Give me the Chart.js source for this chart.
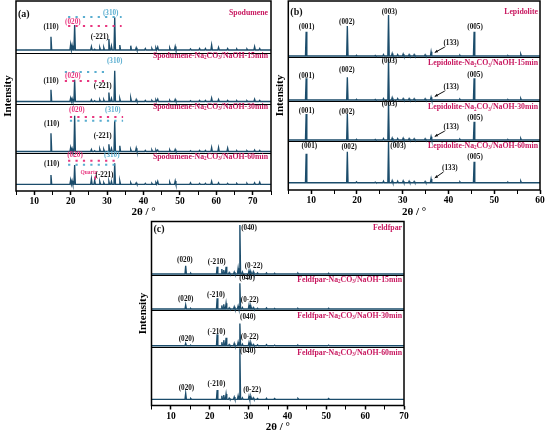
<!DOCTYPE html>
<html><head><meta charset="utf-8">
<script src="https://cdn.jsdelivr.net/npm/chart.js@4.4.1/dist/chart.umd.min.js"></script>
<style>
html,body{margin:0;padding:0;background:#fff;width:550px;height:437px;overflow:hidden;position:relative;}
canvas{position:absolute;}
</style></head><body>
<canvas id="ca" width="280" height="219" style="left:0px;top:0px"></canvas>
<canvas id="cb" width="277" height="219" style="left:273px;top:0px"></canvas>
<canvas id="cc" width="290" height="229" style="left:130px;top:205px"></canvas>
<script>
// ---------- (a) Spodumene: peak positions (2θ) and heights ----------
const aTheta     = [14.6, 20.0, 20.4, 21.1, 25.7, 26.6, 28.0, 29.1, 30.5, 31.2, 32.1, 33.5, 36.5, 38.0, 40.5, 42.3, 43.4, 43.9, 47.2, 48.7, 52.9, 55.4, 57.0, 58.7, 60.6, 63.1, 65.6, 68.4, 70.5, 71.9];
const aSpodumene = [13.3, 5.5, 4.5, 25.0, 3.3, 0.8, 2.3, 2.3, 11.0, 4.0, 32.7, 5.0, 4.3, 2.3, 1.5, 1.5, 2.0, 3.0, 2.0, 3.5, 1.0, 1.5, 1.5, 5.0, 2.5, 1.5, 1.0, 1.0, 3.3, 1.5];
const aSpo15     = [11.7, 3.3, 2.8, 21.7, 1.7, 0.8, 1.7, 1.7, 9.0, 3.0, 30.7, 2.7, 3.3, 2.0, 1.0, 1.0, 1.5, 2.3, 1.2, 2.0, 0.8, 1.0, 1.0, 3.3, 2.0, 1.0, 0.8, 0.8, 2.3, 1.0];
const aSpo30     = [18.3, 4.0, 3.0, 35.7, 2.0, 0.8, 2.3, 2.0, 7.3, 3.0, 30.7, 5.7, 2.0, 3.3, 1.0, 1.5, 1.5, 1.5, 1.5, 2.0, 0.8, 1.0, 1.0, 4.0, 4.0, 3.3, 0.8, 0.8, 1.5, 1.0];
const aSpo60     = [9.3, 4.3, 3.5, 19.3, 5.3, 4.0, 2.7, 1.5, 3.0, 3.0, 21.0, 3.3, 1.5, 1.5, 1.0, 1.0, 1.5, 3.0, 2.0, 3.3, 1.5, 1.0, 1.0, 3.0, 1.5, 1.0, 0.8, 1.0, 1.5, 2.0];
const aNames = ['Spodumene', 'Spodumene-Na_2CO_3/NaOH-15min', 'Spodumene-Na_2CO_3/NaOH-30min', 'Spodumene-Na_2CO_3/NaOH-60min'];

// ---------- (b) Lepidolite ----------
const bTheta      = [8.9, 17.9, 19.9, 24.0, 25.8, 26.9, 27.7, 28.9, 30.1, 31.4, 32.5, 34.9, 36.2, 42.5, 45.6, 53.0, 55.8];
const bLepidolite = [24.3, 30.0, 0.8, 0.6, 1.5, 41.0, 2.5, 1.5, 2.0, 1.5, 1.5, 1.3, 4.3, 0.8, 24.3, 0.5, 1.8];
const bLep15      = [21.7, 22.7, 0.8, 0.6, 1.5, 40.7, 2.3, 1.5, 1.5, 1.5, 1.3, 1.3, 2.7, 0.8, 21.7, 0.5, 1.5];
const bLep30      = [26.0, 26.0, 0.8, 0.6, 1.5, 38.0, 2.0, 1.5, 1.8, 1.5, 1.3, 1.3, 3.3, 0.8, 18.3, 0.5, 1.5];
const bLep60      = [29.0, 31.0, 0.8, 0.6, 1.5, 40.7, 2.0, 1.5, 1.8, 1.5, 1.3, 1.3, 3.7, 0.8, 21.0, 0.5, 1.5];
const bNames = ['Lepidolite', 'Lepidolite-Na_2CO_3/NaOH-15min', 'Lepidolite-Na_2CO_3/NaOH-30min', 'Lepidolite-Na_2CO_3/NaOH-60min'];

// ---------- (c) Feldspar ----------
const cTheta    = [13.8, 15.1, 21.9, 23.1, 23.6, 24.2, 25.0, 26.3, 27.3, 27.75, 28.4, 30.1, 30.6, 31.2, 32.3, 34.6, 36.7, 42.7, 50.6];
const cFeldspar = [8.3, 0.8, 7.3, 5.0, 4.0, 7.3, 1.5, 2.0, 5.7, 49.0, 2.0, 3.3, 2.0, 2.3, 1.0, 1.0, 0.8, 0.8, 0.8];
const cFel15    = [4.0, 0.6, 10.7, 3.5, 4.7, 5.7, 1.2, 2.3, 3.0, 25.7, 1.5, 4.0, 2.5, 1.5, 0.8, 1.0, 0.6, 0.6, 0.8];
const cFel30    = [2.3, 0.5, 11.3, 3.5, 5.5, 8.0, 1.2, 2.3, 3.5, 22.3, 1.5, 3.3, 2.5, 1.3, 0.8, 1.0, 0.6, 0.6, 0.6];
const cFel60    = [6.0, 0.8, 9.3, 3.5, 4.3, 5.3, 1.2, 2.3, 3.5, 51.0, 1.5, 3.3, 2.5, 1.5, 0.8, 1.0, 0.8, 0.8, 0.8];
const cNames = ['Feldfpar', 'Feldfpar-Na_2CO_3/NaOH-15min', 'Feldfpar-Na_2CO_3/NaOH-30min', 'Feldfpar-Na_2CO_3/NaOH-60min'];

// ---------- styling / layout ----------
const FONT = 'Liberation Serif';
const LINE = '#1b4c6b';
const BLK = '#111', PNK = '#e8367f', CYN = '#5aaed0', TTL = '#c8175f';
Chart.defaults.font.family = FONT;

function trace(theta, h, base, lo, hi, w) {
  const pts = [{x: lo, y: base}];
  theta.forEach((t, i) => {
    pts.push({x: t - w, y: base}, {x: t, y: base + h[i]}, {x: t + w, y: base});
  });
  pts.push({x: hi, y: base});
  return pts;
}

function drawRich(ctx, str, xr, y, size, color) {
  const parts = [];
  str.split(/(_\d)/).forEach(p => {
    if (!p) return;
    if (p[0] === '_') parts.push({t: p.slice(1), sub: true}); else parts.push({t: p, sub: false});
  });
  const fN = 'bold ' + size + 'px "' + FONT + '"';
  const fS = 'bold ' + (size * 0.65).toFixed(2) + 'px "' + FONT + '"';
  let total = 0;
  parts.forEach(p => { ctx.font = p.sub ? fS : fN; p.w = ctx.measureText(p.t).width; total += p.w; });
  let x = xr - total;
  ctx.fillStyle = color; ctx.textAlign = 'left'; ctx.textBaseline = 'middle';
  parts.forEach(p => {
    ctx.font = p.sub ? fS : fN;
    ctx.fillText(p.t, x, p.sub ? y + size * 0.28 : y);
    x += p.w;
  });
}

function annotPlugin(cfg) {
  return {
    id: 'annot',
    afterDatasetsDraw(chart) {
      const ctx = chart.ctx, xs = chart.scales.x, ys = chart.scales.y, ca = chart.chartArea;
      const X = v => xs.getPixelForValue(v), Y = v => ys.getPixelForValue(v);
      ctx.save();
      (cfg.dots || []).forEach(d => {
        ctx.beginPath(); ctx.setLineDash([2.2, 5.2]); ctx.lineWidth = 2; ctx.strokeStyle = d[3];
        ctx.moveTo(X(d[0]), Y(d[2])); ctx.lineTo(X(d[1]), Y(d[2])); ctx.stroke();
      });
      ctx.setLineDash([]);
      (cfg.arrows || []).forEach(a => {
        const x1 = X(a[0]), y1 = Y(a[1]), x2 = X(a[2]), y2 = Y(a[3]);
        ctx.strokeStyle = a[4] || BLK; ctx.fillStyle = a[4] || BLK; ctx.lineWidth = 1;
        ctx.beginPath(); ctx.moveTo(x1, y1); ctx.lineTo(x2, y2); ctx.stroke();
        const ang = Math.atan2(y2 - y1, x2 - x1), L = 3.5;
        ctx.beginPath(); ctx.moveTo(x2, y2);
        ctx.lineTo(x2 - L * Math.cos(ang - 0.45), y2 - L * Math.sin(ang - 0.45));
        ctx.lineTo(x2 - L * Math.cos(ang + 0.45), y2 - L * Math.sin(ang + 0.45));
        ctx.closePath(); ctx.fill();
      });
      ctx.textAlign = 'center'; ctx.textBaseline = 'middle';
      cfg.labels.forEach(l => {
        ctx.font = 'bold ' + (l[4] || 7.2) + 'px "' + FONT + '"';
        ctx.fillStyle = l[3] || BLK;
        ctx.fillText(l[0], X(l[1]), Y(l[2]));
      });
      cfg.names.forEach((n, i) => drawRich(ctx, n, ca.right - cfg.titleInset, Y(cfg.titleY[i]), 7.8, TTL));
      ctx.font = 'bold 10px "' + FONT + '"'; ctx.fillStyle = BLK; ctx.textAlign = 'left';
      ctx.fillText(cfg.letter, ca.left + 2, Y(cfg.letterY));
      ctx.lineWidth = 1.5; ctx.strokeStyle = '#000';
      ctx.strokeRect(ca.left, ca.top, ca.right - ca.left, ca.bottom - ca.top);
      ctx.restore();
    }
  };
}

function makeChart(id, cfg) {
  new Chart(document.getElementById(id), {
    type: 'scatter',
    data: {
      datasets: cfg.series.map((h, i) => ({
        data: trace(cfg.theta, h, cfg.base[i], cfg.xmin, cfg.xmax, cfg.w),
        showLine: true, borderColor: LINE, borderWidth: 1.35, pointRadius: 0, tension: 0, fill: false
      }))
    },
    options: {
      responsive: false, animation: false, events: [],
      layout: {padding: {left: 0, top: cfg.top, right: cfg.right, bottom: 0}},
      plugins: {legend: {display: false}, tooltip: {enabled: false}},
      scales: {
        x: {
          type: 'linear', min: cfg.xmin, max: cfg.xmax,
          ticks: {stepSize: 5, autoSkip: false, maxRotation: 0, padding: 1, color: '#000',
                  font: {size: 9.5, weight: 'bold'}, callback: v => (v % 10 === 0 ? v : '')},
          grid: {drawOnChartArea: false, drawTicks: true, tickLength: 4, tickColor: '#000',
                 tickWidth: c => (c.tick && c.tick.value % 10 === 0 ? 1.5 : 1)},
          border: {display: false},
          title: {display: true, text: '2θ / °', color: '#000', font: {size: 11, weight: 'bold'}, padding: 0},
          afterFit: s => { s.height = cfg.xh; }
        },
        y: {
          type: 'linear', min: 0, max: cfg.ymax,
          afterBuildTicks: s => { s.ticks = cfg.seps.map(v => ({value: v})); },
          ticks: {display: false},
          grid: {drawTicks: false, color: '#000', lineWidth: 1},
          border: {display: false},
          title: {display: true, text: 'Intensity', color: '#000', font: {size: 11, weight: 'bold'},
                  padding: {top: cfg.ytp, bottom: 0}},
          afterFit: s => { s.width = cfg.left; }
        }
      }
    },
    plugins: [annotPlugin(cfg)]
  });
}

makeChart('ca', {
  theta: aTheta, series: [aSpodumene, aSpo15, aSpo30, aSpo60], names: aNames,
  base: [141, 89.5, 39.5, 6.7], seps: [137.5, 87, 37.5], ymax: 190,
  xmin: 5, xmax: 75, w: 0.2, left: 16, top: 1, right: 9, xh: 28, ytp: 1.4,
  titleY: [178, 135, 84, 34], titleInset: 3, letter: '(a)', letterY: 177,
  labels: [
    ['(110)', 14.6, 164], ['(020)', 20.6, 169, PNK], ['(310)', 31.0, 178, CYN], ['(-221)', 28.0, 154],
    ['(310)', 32.1, 130, CYN], ['(020)', 20.6, 115, PNK], ['(110)', 14.6, 110], ['(-221)', 28.8, 105],
    ['(020)', 21.7, 81, PNK], ['(310)', 31.6, 81, CYN], ['(110)', 14.8, 67], ['(-221)', 28.8, 55],
    ['(020)', 21.2, 36, PNK], ['(310)', 31.3, 36, CYN], ['(110)', 14.8, 27], ['Quartz', 25.0, 18, PNK, 5.5], ['(-221)', 29.3, 16]
  ],
  dots: [
    [19.3, 34.0, 174, CYN], [19.3, 34.0, 165, PNK],
    [18.4, 30.2, 119, CYN], [18.4, 30.2, 110, PNK],
    [19.8, 34.4, 74, PNK], [19.8, 34.4, 70.3, CYN],
    [19.3, 33.4, 30.3, PNK], [19.3, 33.4, 26.3, CYN]
  ],
  arrows: [[26.8, 15.5, 26.8, 11.2, PNK]]
});

makeChart('cb', {
  theta: bTheta, series: [bLepidolite, bLep15, bLep30, bLep60], names: bNames,
  base: [134, 90, 50, 7.3], seps: [132.3, 88.3, 48.3], ymax: 189,
  xmin: 5, xmax: 60, w: 0.15, left: 15.3, top: 1, right: 10, xh: 29, ytp: 0.4,
  titleY: [178.3, 126.7, 82.7, 44], titleInset: 2, letter: '(b)', letterY: 177.3,
  labels: [
    ['(001)', 9.0, 163.3], ['(002)', 17.8, 168.3], ['(003)', 27.1, 178.3], ['(005)', 45.8, 163.3], ['(133)', 40.6, 146.7],
    ['(001)', 9.0, 114.3], ['(002)', 17.8, 120], ['(003)', 27.1, 129], ['(005)', 45.8, 115], ['(133)', 40.6, 102.7],
    ['(001)', 9.0, 79.3], ['(002)', 17.8, 78.3], ['(003)', 27.1, 85.7], ['(005)', 45.8, 71.7], ['(133)', 40.6, 62.7],
    ['(001)', 9.6, 44], ['(002)', 18.3, 43.3], ['(003)', 29.0, 44.3], ['(005)', 45.8, 33.3], ['(133)', 40.3, 21.7]
  ],
  arrows: [[39.2, 143, 37.0, 137.5], [39.2, 99, 37.0, 93.5], [39.2, 59, 37.0, 53.5], [38.9, 18, 37.0, 12]]
});

makeChart('cc', {
  theta: cTheta, series: [cFeldspar, cFel15, cFel30, cFel60], names: cNames,
  base: [131.5, 96.5, 59.8, 6.2], seps: [130, 95, 58.5], ymax: 184,
  xmin: 5, xmax: 70, w: 0.18, left: 21.5, top: 16.5, right: 16, xh: 28.5, ytp: 6.4,
  titleY: [177.2, 125.5, 89.5, 52.8], titleInset: 2, letter: '(c)', letterY: 176.5,
  labels: [
    ['(020)', 13.6, 145.5], ['(-210)', 21.8, 143.8], ['(040)', 30.1, 177.8], ['(0-22)', 31.3, 139.8],
    ['(020)', 13.8, 106.2], ['(-210)', 21.6, 110.5], ['(040)', 29.6, 127.2], ['(0-22)', 30.3, 105.5],
    ['(020)', 14.0, 66.2], ['(-210)', 21.7, 73.5], ['(040)', 29.8, 88.8], ['(0-22)', 30.3, 68.8],
    ['(020)', 14.0, 17.2], ['(-210)', 21.7, 21.5], ['(040)', 29.8, 54.8], ['(0-22)', 30.9, 15.5]
  ]
});
</script>
</body></html>
